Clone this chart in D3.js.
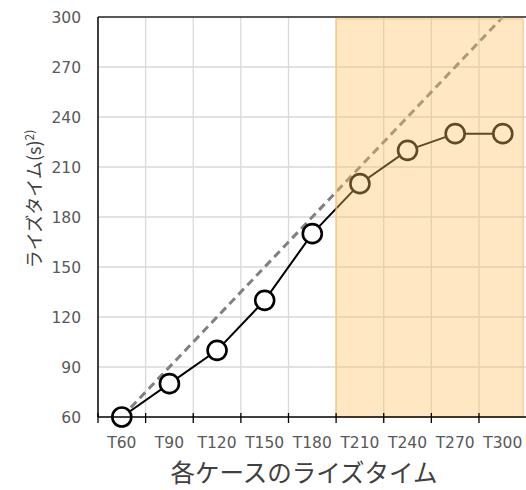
<!DOCTYPE html>
<html>
<head>
<meta charset="utf-8">
<script src="https://cdn.jsdelivr.net/npm/d3@7"></script>
<style>
  body { margin: 0; background: #fff; }
  text { font-family: "DejaVu Sans", "Noto Sans CJK JP", sans-serif; }
</style>
</head>
<body>
<script>
var cases = ['T60', 'T90', 'T120', 'T150', 'T180', 'T210', 'T240', 'T270', 'T300'];
var riseTimes = [60, 80, 100, 130, 170, 200, 220, 230, 230];
var idealTimes = [60, 300]; // dashed reference, first and last case
var yTicks = [60, 90, 120, 150, 180, 210, 240, 270, 300];
var shadedCases = ['T210', 'T300'];

var margin = {top: 17, right: 0, bottom: 73, left: 98},
    width = 428.6,
    height = 400;

var svg = d3.select('body').append('svg')
    .attr('width', 526)
    .attr('height', 490)
  .append('g')
    .attr('transform', 'translate(' + margin.left + ',' + margin.top + ')');

var x = d3.scaleBand().domain(cases).range([0, width]);
var y = d3.scaleLinear().domain([60, 300]).range([height, 0]);
var cx = function(c) { return x(c) + x.bandwidth() / 2; };

// grid
svg.selectAll('.hgrid')
    .data(yTicks.slice(1, -1))
  .enter().append('line')
    .attr('x1', 0).attr('x2', width)
    .attr('y1', function(d) { return y(d); })
    .attr('y2', function(d) { return y(d); })
    .style('stroke', '#d9d9d9').style('stroke-width', 1.3);

svg.selectAll('.vgrid')
    .data(cases.slice(1))
  .enter().append('line')
    .attr('x1', function(d) { return x(d); })
    .attr('x2', function(d) { return x(d); })
    .attr('y1', 0).attr('y2', height)
    .style('stroke', '#d9d9d9').style('stroke-width', 1.3);

// top border
svg.append('line')
    .attr('x1', 0).attr('x2', width)
    .attr('y1', 0).attr('y2', 0)
    .style('stroke', '#222').style('stroke-width', 1.3);

// dashed reference line
svg.append('line')
    .attr('x1', cx(cases[0])).attr('y1', y(idealTimes[0]))
    .attr('x2', cx(cases[cases.length - 1])).attr('y2', y(idealTimes[1]))
    .style('stroke', '#808080')
    .style('stroke-width', 3)
    .style('stroke-dasharray', '8,5');

// data line
var line = d3.line()
    .x(function(d, i) { return cx(cases[i]); })
    .y(function(d) { return y(d); });

svg.append('path')
    .datum(riseTimes)
    .attr('d', line)
    .style('fill', 'none')
    .style('stroke', '#000')
    .style('stroke-width', 2);

svg.selectAll('.pt')
    .data(riseTimes)
  .enter().append('circle')
    .attr('cx', function(d, i) { return cx(cases[i]); })
    .attr('cy', function(d) { return y(d); })
    .attr('r', 9.5)
    .style('fill', '#fff')
    .style('stroke', '#000')
    .style('stroke-width', 2.6);

// shaded region on top
var sx0 = x(shadedCases[0]),
    sx1 = x(shadedCases[1]) + x.bandwidth() - 3.5;
svg.append('rect')
    .attr('x', sx0)
    .attr('y', 2)
    .attr('width', sx1 - sx0)
    .attr('height', height - 2)
    .style('fill', '#FFBF5E')
    .style('fill-opacity', 0.38)
    .style('stroke', '#F7C77E')
    .style('stroke-width', 1.2);

// axes
var xAxis = svg.append('g')
    .attr('transform', 'translate(0,' + height + ')');
xAxis.append('line')
    .attr('x1', 0).attr('x2', width)
    .style('stroke', '#000').style('stroke-width', 1.5);
xAxis.selectAll('.tk')
    .data(cases)
  .enter().append('line')
    .attr('x1', function(d) { return x(d); })
    .attr('x2', function(d) { return x(d); })
    .attr('y1', -4).attr('y2', 6)
    .style('stroke', '#000').style('stroke-width', 1.3);
xAxis.selectAll('.lbl')
    .data(cases)
  .enter().append('text')
    .attr('x', cx)
    .attr('y', 31)
    .style('text-anchor', 'middle')
    .style('font-size', '15.5px')
    .style('fill', '#595959')
    .text(function(d) { return d; });

svg.append('line')
    .attr('x1', 0).attr('x2', 0)
    .attr('y1', 0).attr('y2', height)
    .style('stroke', '#000').style('stroke-width', 1.5);

svg.selectAll('.ylbl')
    .data(yTicks)
  .enter().append('text')
    .attr('x', -17)
    .attr('y', function(d) { return y(d); })
    .attr('dy', '0.36em')
    .style('text-anchor', 'end')
    .style('font-size', '15.5px')
    .style('fill', '#595959')
    .text(function(d) { return d; });

// titles
svg.append('text')
    .attr('x', 206)
    .attr('y', height + 65)
    .style('text-anchor', 'middle')
    .style('font-size', '24.5px')
    .style('font-family', '"Noto Sans CJK JP", sans-serif')
    .style('fill', '#404040')
    .text('各ケースのライズタイム');

var yt = svg.append('text')
    .attr('transform', 'translate(' + (-57) + ',' + 182 + ') rotate(-90)')
    .style('text-anchor', 'middle')
    .style('font-size', '18px')
    .style('font-family', '"Noto Sans CJK JP", sans-serif')
    .style('fill', '#404040');
yt.append('tspan').text('ライズタイム(s)');
yt.append('tspan')
    .attr('dy', '-0.55em')
    .style('font-size', '12px')
    .text('2)');
</script>
</body>
</html>
